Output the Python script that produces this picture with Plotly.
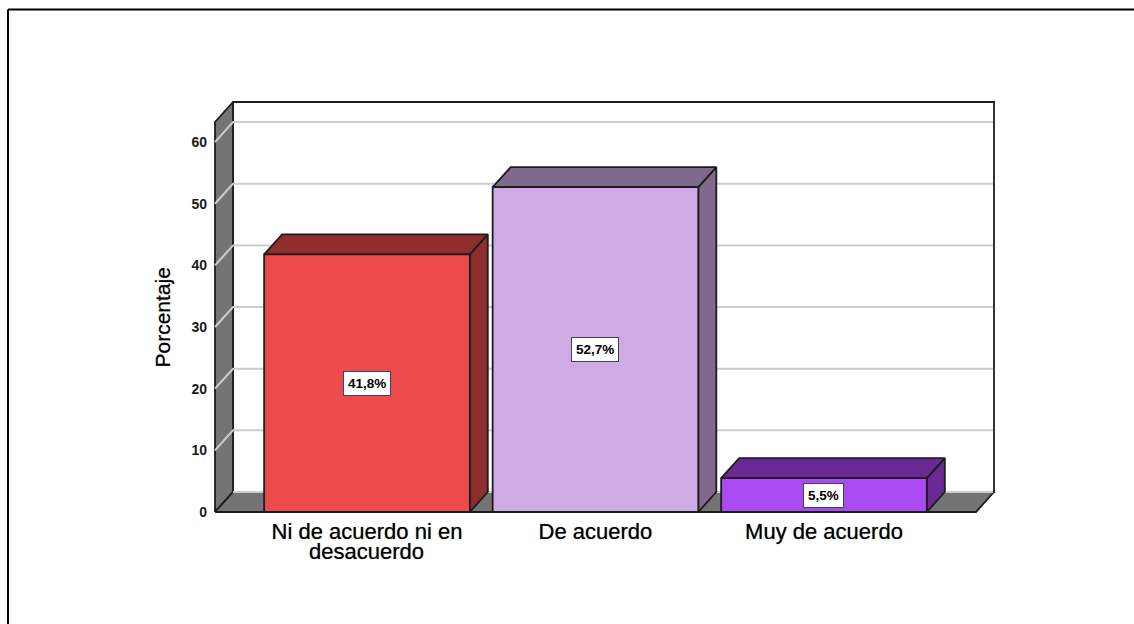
import plotly.graph_objects as go

# Data
categories = ["Ni de acuerdo ni en", "De acuerdo", "Muy de acuerdo"]
second_line = ["desacuerdo", "", ""]
values = [41.8, 52.7, 5.5]
y_ticks = [0, 10, 20, 30, 40, 50, 60]
front_colors = ["#EE4B4D", "#CFABE5", "#A94AF3"]
dark_colors = ["#8F2D2E", "#7F6A8E", "#6A2A94"]

# Layout constants
W, H = 1134, 624
PX_X, PX_Y = 228.5, 6.165    # pixels per axis unit
PAD = 3                      # spare pixels round the frame so its outline is not clipped
L, R, T, B = 215 - PAD, 994 + PAD, 102 - PAD, 512 + PAD
WALL_X0, WALL_X1 = -0.665, 2.744
WALL_TOP = 66.5
X0, X1 = WALL_X0 - PAD / PX_X, WALL_X1 + PAD / PX_X
Y0, YMAX = -PAD / PX_Y, WALL_TOP + PAD / PX_Y
DX, DY = 0.0788, 3.24        # oblique depth of the 3D projection, in axis units
BAR_W = 0.9
XF = WALL_X1 - DX            # right end of the front floor edge
EDGE = "#1c1c1c"
WALL = "#747474"
GRID = "#cdcdcd"
LW = 1.8
FONT = "Liberation Sans, Arial, sans-serif"
SOFT = "0 0 1px rgba(0,0,0,0.55)"

fig = go.Figure()


def poly(xs, ys, fill, line=EDGE, width=LW, z=1):
    fig.add_trace(go.Scatter(
        x=xs, y=ys, mode="lines", fill="toself" if fill else None,
        fillcolor=fill, line=dict(color=line, width=width),
        cliponaxis=False, hoverinfo="skip", showlegend=False, zorder=z))


# Back wall, left wall, floor
poly([WALL_X0 + DX, WALL_X1, WALL_X1, WALL_X0 + DX, WALL_X0 + DX],
     [DY, DY, WALL_TOP, WALL_TOP, DY], "#ffffff", EDGE, LW, 0)
poly([WALL_X0, WALL_X0 + DX, WALL_X0 + DX, WALL_X0, WALL_X0],
     [0, DY, WALL_TOP, WALL_TOP - DY, 0], WALL, EDGE, LW, 0)
poly([WALL_X0, XF, WALL_X1, WALL_X0 + DX, WALL_X0], [0, 0, DY, DY, 0], WALL, EDGE, LW, 0)

# Gridlines wrapping from the side wall onto the back wall
for t in y_ticks[1:]:
    poly([WALL_X0, WALL_X0 + DX, WALL_X1 - 0.004], [t, t + DY, t + DY], None, GRID, 2, 1)
poly([WALL_X0 + DX, WALL_X1 - 0.004], [DY, DY], None, GRID, 2, 1)

# Bar side and top faces
for i, v in enumerate(values):
    l, r = i - BAR_W / 2, i + BAR_W / 2
    poly([r, r + DX, r + DX, r, r], [0, DY, v + DY, v, 0], dark_colors[i], EDGE, LW, 2)
    poly([l, r, r + DX, l + DX, l], [v, v, v + DY, v + DY, v], dark_colors[i], EDGE, LW, 2)

# Bar fronts
fig.add_trace(go.Bar(
    x=list(range(len(values))), y=values, width=BAR_W,
    marker=dict(color=front_colors, line=dict(color=EDGE, width=LW)),
    hoverinfo="skip", showlegend=False, zorder=3))

pw, ph = R - L, B - T
ann = []
for i, v in enumerate(values):
    ann.append(dict(
        x=i, y=v / 2, xref="x", yref="y", showarrow=False,
        text=f"{v:.1f}%".replace(".", ","),
        font=dict(family=FONT, size=13.5, color="#000000", weight="bold"),
        bgcolor="#ffffff", bordercolor="#45405a", borderwidth=1, borderpad=4))
    if second_line[i]:
        ann.append(dict(
            x=i, y=(B - 551) / ph, xref="x", yref="paper", showarrow=False,
            xanchor="center", yanchor="middle",
            text=second_line[i],
            font=dict(family=FONT, size=22, color="#000000", shadow=SOFT)))
ann.append(dict(
    x=(162 - L) / pw, y=(B - 317.5) / ph, xref="paper", yref="paper", showarrow=False,
    xanchor="center", yanchor="middle",
    text="Porcentaje", textangle=-90,
    font=dict(family=FONT, size=21, color="#000000", shadow=SOFT)))

fig.update_layout(
    width=W, height=H,
    margin=dict(l=L, r=W - R, t=T, b=H - B, pad=0),
    paper_bgcolor="#ffffff", plot_bgcolor="#ffffff",
    showlegend=False,
    xaxis=dict(range=[X0, X1], tickmode="array", tickvals=list(range(len(categories))),
               ticktext=categories, showgrid=False, zeroline=False, showline=False,
               ticks="", ticklabelstandoff=1,
               tickfont=dict(family=FONT, size=22, color="#000000", shadow=SOFT)),
    yaxis=dict(range=[Y0, YMAX], tickmode="array", tickvals=y_ticks,
               ticktext=[str(t) for t in y_ticks], showgrid=False, zeroline=False,
               showline=False, ticks="", ticklabelstandoff=4,
               tickfont=dict(family=FONT, size=14, color="#1a1a1a", weight="bold")),
    annotations=ann,
    shapes=[
        dict(type="line", xref="paper", yref="paper",
             x0=(8 - L) / pw, x1=(W + 5 - L) / pw,
             y0=(B - 9.5) / ph, y1=(B - 9.5) / ph, line=dict(color="#000000", width=2)),
        dict(type="line", xref="paper", yref="paper",
             x0=(8 - L) / pw, x1=(8 - L) / pw,
             y0=(B - 9.5) / ph, y1=(B - H - 5) / ph, line=dict(color="#000000", width=2)),
    ],
)

fig.write_html("out.html", config={"displayModeBar": False},
               post_script="document.body.style.margin='0';document.body.style.overflow='hidden';")
